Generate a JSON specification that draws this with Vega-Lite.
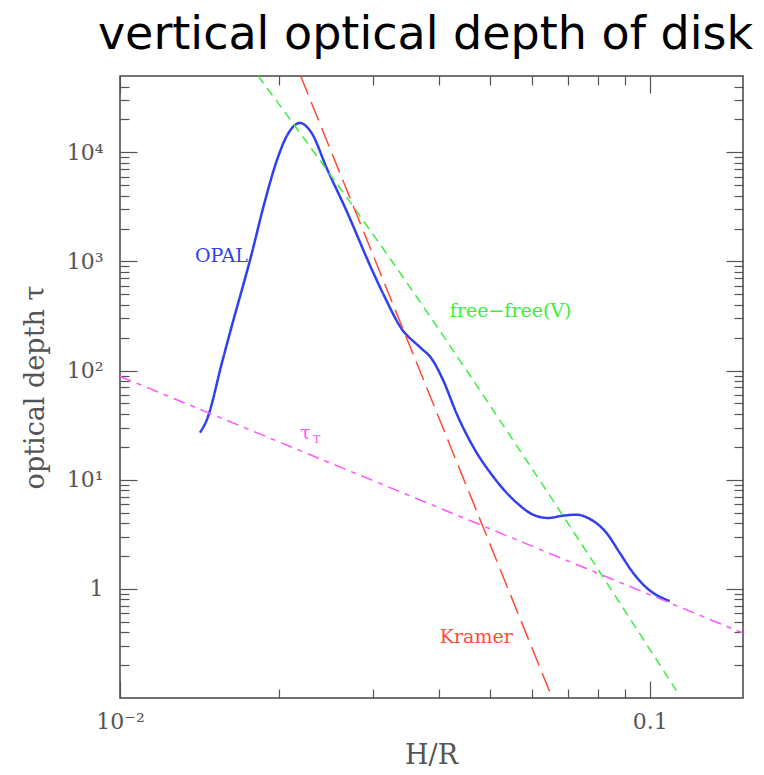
{
  "$schema": "https://vega.github.io/schema/vega-lite/v6.json",
  "width": 623,
  "height": 622,
  "autosize": "none",
  "padding": {"left": 120, "top": 76, "right": 21, "bottom": 77},
  "background": "white",
  "title": {"text": "vertical optical depth of disk", "font": "DejaVu Sans", "fontSize": 46, "fontWeight": "normal", "color": "#000", "anchor": "middle", "offset": 16, "dx": -6},
  "config": {
    "view": {"stroke": "#444", "strokeWidth": 1.5},
    "axis": {"domain": false, "grid": false, "tickColor": "#555", "tickWidth": 1.2, "labelFont": "DejaVu Serif", "labelFontSize": 22, "labelColor": "#555", "titleFont": "DejaVu Serif", "titleFontSize": 27, "titleFontWeight": "normal", "titleColor": "#555", "labelOverlap": false, "labelFlush": false, "labelBound": false}
  },
  "datasets": {
    "curves": [
      {"series": "OPAL", "hr": 0.014156, "tau": 26.96},
      {"series": "OPAL", "hr": 0.014577, "tau": 35.2},
      {"series": "OPAL", "hr": 0.015618, "tau": 124.2},
      {"series": "OPAL", "hr": 0.016171, "tau": 233.2},
      {"series": "OPAL", "hr": 0.01772, "tau": 1168},
      {"series": "OPAL", "hr": 0.018692, "tau": 3292},
      {"series": "OPAL", "hr": 0.019754, "tau": 8295},
      {"series": "OPAL", "hr": 0.020632, "tau": 14030},
      {"series": "OPAL", "hr": 0.021864, "tau": 18550},
      {"series": "OPAL", "hr": 0.022998, "tau": 15030},
      {"series": "OPAL", "hr": 0.024547, "tau": 7205},
      {"series": "OPAL", "hr": 0.026776, "tau": 2901},
      {"series": "OPAL", "hr": 0.029852, "tau": 852.5},
      {"series": "OPAL", "hr": 0.031397, "tau": 504},
      {"series": "OPAL", "hr": 0.03401, "tau": 241.6},
      {"series": "OPAL", "hr": 0.036813, "tau": 164.2},
      {"series": "OPAL", "hr": 0.038735, "tau": 128.7},
      {"series": "OPAL", "hr": 0.040738, "tau": 81.6},
      {"series": "OPAL", "hr": 0.043183, "tau": 40.5},
      {"series": "OPAL", "hr": 0.046405, "tau": 20.09},
      {"series": "OPAL", "hr": 0.050624, "tau": 10.7},
      {"series": "OPAL", "hr": 0.056357, "tau": 6.027},
      {"series": "OPAL", "hr": 0.060233, "tau": 4.783},
      {"series": "OPAL", "hr": 0.064292, "tau": 4.463},
      {"series": "OPAL", "hr": 0.068614, "tau": 4.684},
      {"series": "OPAL", "hr": 0.072722, "tau": 4.783},
      {"series": "OPAL", "hr": 0.077053, "tau": 4.37},
      {"series": "OPAL", "hr": 0.08285, "tau": 3.257},
      {"series": "OPAL", "hr": 0.087773, "tau": 2.139},
      {"series": "OPAL", "hr": 0.093, "tau": 1.405},
      {"series": "OPAL", "hr": 0.098576, "tau": 1.0255},
      {"series": "OPAL", "hr": 0.10908, "tau": 0.774},
      {"series": "free-free", "hr": 0.018234, "tau": 50000},
      {"series": "free-free", "hr": 0.020632, "tau": 22130},
      {"series": "free-free", "hr": 0.03256, "tau": 1015},
      {"series": "free-free", "hr": 0.062474, "tau": 9.31},
      {"series": "free-free", "hr": 0.1123, "tau": 0.1168},
      {"series": "Kramer", "hr": 0.021931, "tau": 50000},
      {"series": "Kramer", "hr": 0.06545, "tau": 0.1},
      {"series": "tau", "hr": 0.01, "tau": 88.5},
      {"series": "tau", "hr": 0.15, "tau": 0.3934}
    ],
    "labels": [
      {"series": "OPAL", "text": "OPAL", "hr": 0.013848, "tau": 1127},
      {"series": "free-free", "text": "free−free(V)", "hr": 0.041945, "tau": 355},
      {"series": "Kramer", "text": "Kramer", "hr": 0.040159, "tau": 0.361},
      {"series": "tau", "text": "τ", "hr": 0.021864, "tau": 26.8}
    ],
    "sub": [
      {"series": "tau", "text": "T", "hr": 0.023128, "tau": 23.1}
    ]
  },
  "resolve": {"axis": {"x": "independent", "y": "independent"}},
  "layer": [
    {
      "data": {"name": "curves"},
      "mark": {"type": "line", "interpolate": "monotone", "clip": true},
      "encoding": {
        "x": {"field": "hr", "type": "quantitative", "scale": {"type": "log", "domain": [0.01, 0.15], "nice": false},
          "axis": {"orient": "bottom", "values": [0.01, 0.02, 0.03, 0.04, 0.05, 0.06, 0.07, 0.08, 0.09, 0.1],
            "labelExpr": "datum.value == 0.01 ? '10⁻²' : (datum.value == 0.1 ? '0.1' : '')",
            "tickSize": {"condition": {"test": "datum.value == 0.01 || datum.value == 0.1", "value": -17}, "value": -9},
            "labelPadding": 30, "labelBaseline": "top", "title": "H/R", "titleX": 311, "titleY": 57, "titleBaseline": "middle"}},
        "y": {"field": "tau", "type": "quantitative", "scale": {"type": "log", "domain": [0.1, 50000], "nice": false},
          "axis": {"orient": "left", "values": [0.2, 0.3, 0.4, 0.5, 0.6, 0.7, 0.8, 0.9, 1, 2, 3, 4, 5, 6, 7, 8, 9, 10, 20, 30, 40, 50, 60, 70, 80, 90, 100, 200, 300, 400, 500, 600, 700, 800, 900, 1000, 2000, 3000, 4000, 5000, 6000, 7000, 8000, 9000, 10000, 20000, 30000, 40000],
            "labelExpr": "datum.value == 1 ? '1' : datum.value == 10 ? '10¹' : datum.value == 100 ? '10²' : datum.value == 1000 ? '10³' : datum.value == 10000 ? '10⁴' : ''",
            "tickSize": {"condition": {"test": "datum.value == 1 || datum.value == 10 || datum.value == 100 || datum.value == 1000 || datum.value == 10000", "value": -17}, "value": -9},
            "labelPadding": 34, "title": "optical depth τ", "titleX": -85, "titleY": 311, "titleBaseline": "middle"}},
        "color": {"field": "series", "type": "nominal", "scale": {"domain": ["OPAL", "Kramer", "free-free", "tau"], "range": ["#3040f0", "#ff4a3a", "#3aee3a", "#ff55ff"]}, "legend": null},
        "strokeDash": {"field": "series", "type": "nominal", "scale": {"domain": ["OPAL", "Kramer", "free-free", "tau"], "range": [[1, 0], [20, 8], [9, 6], [12, 6, 5, 6]]}, "legend": null},
        "strokeWidth": {"condition": {"test": "datum.series == 'OPAL'", "value": 2.5}, "value": 1.5}
      }
    },
    {
      "data": {"name": "labels"},
      "mark": {"type": "text", "align": "left", "baseline": "middle", "font": "DejaVu Serif", "fontSize": 19},
      "encoding": {
        "x": {"field": "hr", "type": "quantitative",
          "axis": {"orient": "top", "values": [0.01, 0.02, 0.03, 0.04, 0.05, 0.06, 0.07, 0.08, 0.09, 0.1], "labels": false, "title": null,
            "tickSize": {"condition": {"test": "datum.value == 0.01 || datum.value == 0.1", "value": -17}, "value": -9}}},
        "y": {"field": "tau", "type": "quantitative",
          "axis": {"orient": "right", "values": [0.2, 0.3, 0.4, 0.5, 0.6, 0.7, 0.8, 0.9, 1, 2, 3, 4, 5, 6, 7, 8, 9, 10, 20, 30, 40, 50, 60, 70, 80, 90, 100, 200, 300, 400, 500, 600, 700, 800, 900, 1000, 2000, 3000, 4000, 5000, 6000, 7000, 8000, 9000, 10000, 20000, 30000, 40000], "labels": false, "title": null,
            "tickSize": {"condition": {"test": "datum.value == 1 || datum.value == 10 || datum.value == 100 || datum.value == 1000 || datum.value == 10000", "value": -17}, "value": -9}}},
        "text": {"field": "text"},
        "color": {"field": "series", "type": "nominal", "legend": null}
      }
    },
    {
      "data": {"name": "sub"},
      "mark": {"type": "text", "align": "left", "baseline": "middle", "font": "DejaVu Serif", "fontSize": 11},
      "encoding": {
        "x": {"field": "hr", "type": "quantitative", "axis": null},
        "y": {"field": "tau", "type": "quantitative", "axis": null},
        "text": {"field": "text"},
        "color": {"field": "series", "type": "nominal", "legend": null}
      }
    }
  ]
}
